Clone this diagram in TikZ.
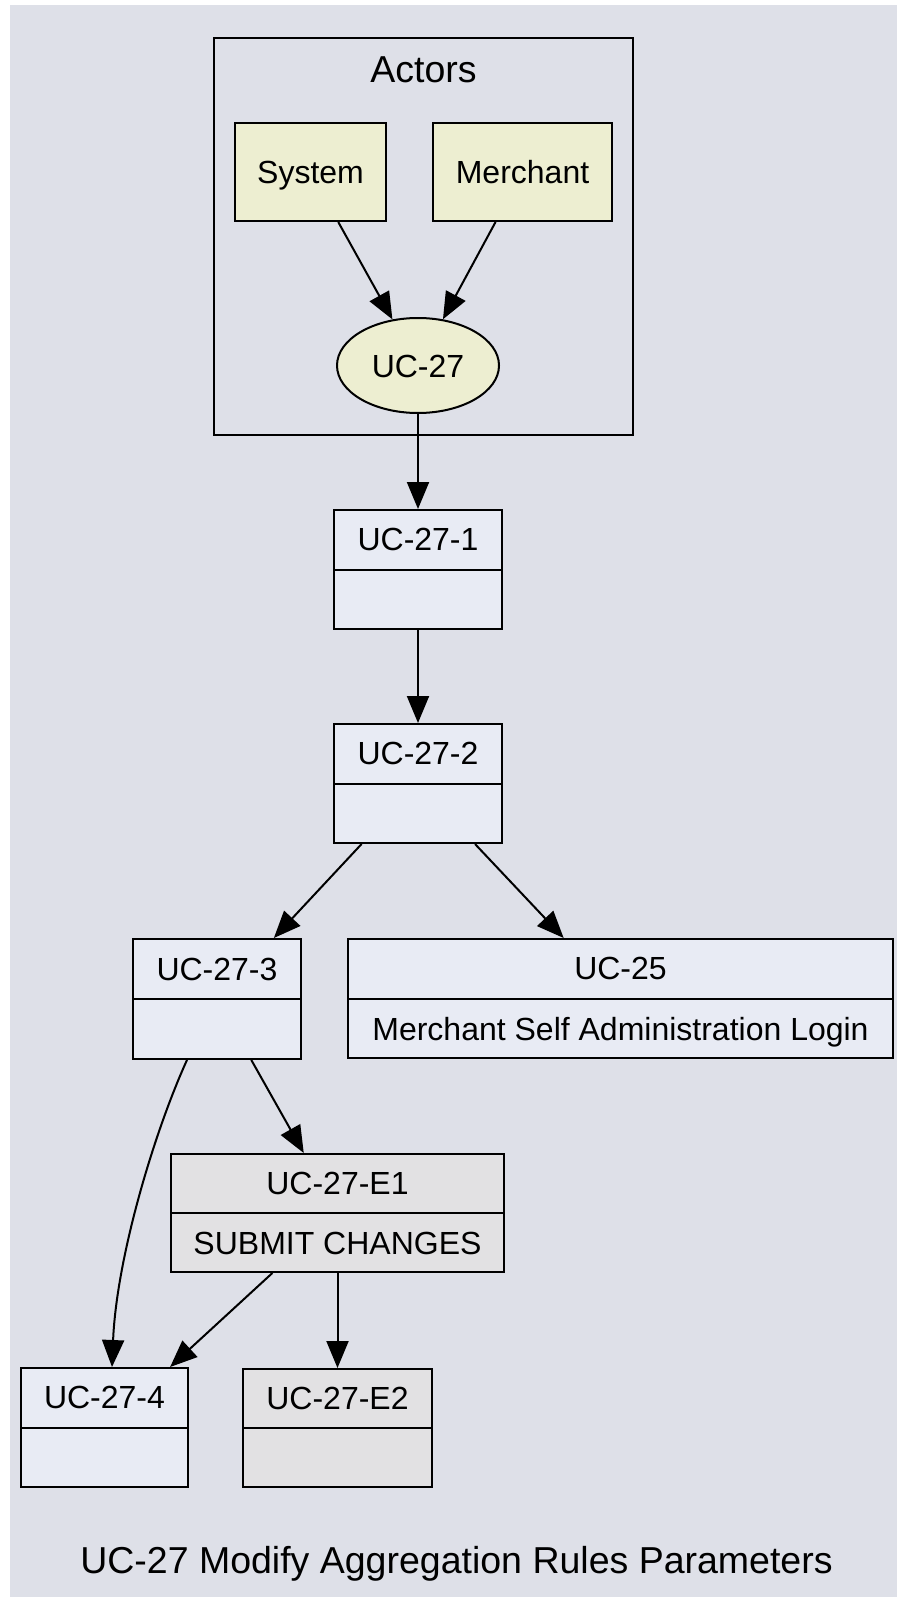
\documentclass[tikz,border=0pt]{standalone}
\usepackage{fontspec}
\setmainfont{Liberation Sans}
\usetikzlibrary{arrows.meta,shapes.geometric,calc}
\definecolor{bgc}{HTML}{DEE0E8}
\definecolor{actfill}{HTML}{EDEED1}
\definecolor{recfill}{HTML}{E8EBF4}
\definecolor{errfill}{HTML}{E2E1E3}
\begin{document}
\begin{tikzpicture}[x=1pt,y=-1pt,
  every node/.style={font=\fontsize{32}{36}\selectfont, text height=23pt, text depth=0pt, inner sep=0pt},
  box/.style={draw=black, line width=2pt, rectangle},
  actor/.style={box, fill=actfill},
  rec/.style={box, fill=recfill},
  err/.style={box, fill=errfill},
  divider/.style={draw=black, line width=2pt},
  conn/.style={draw=black, line width=2pt, -{Triangle[length=27pt,width=22pt]}},
  bigtext/.style={font=\fontsize{37.5}{42}\selectfont, anchor=base, text height=, text depth=}]
\useasboundingbox (0,0) rectangle (897,1597);
\fill[bgc] (10,5) rectangle (897,1597);

% cluster
\node[box, minimum width=419pt, minimum height=397pt] (actors) at (423.5,236.5) {};
\node[bigtext] (actorslbl) at (423.5,83) {Actors};

% actors
\node[actor, minimum width=151pt, minimum height=98pt] (sys) at (310.5,172) {System};
\node[actor, minimum width=179pt, minimum height=98pt] (mer) at (522.5,172) {Merchant};
\node[ellipse, draw=black, line width=2pt, fill=actfill, minimum width=162pt, minimum height=95pt] (uc) at (418,365.5) {UC-27};

% records
\node[rec, minimum width=168pt, minimum height=119pt] (u1) at (418,569.5) {};
\node[rec, minimum width=168pt, minimum height=119pt] (u2) at (418,783.5) {};
\node[rec, minimum width=168pt, minimum height=120pt] (u3) at (217,999) {};
\node[rec, minimum width=545pt, minimum height=119pt] (u25) at (620.5,998.5) {};
\node[err, minimum width=333pt, minimum height=118pt] (e1) at (337.5,1213) {};
\node[rec, minimum width=167pt, minimum height=119pt] (u4) at (104.5,1427.5) {};
\node[err, minimum width=189pt, minimum height=118pt] (e2) at (337.5,1428) {};

\foreach \n in {u1,u2,u3,u25,e1,u4,e2}{\draw[divider] (\n.west) -- (\n.east);}

\node (u1t) at ($(u1.north)!0.5!(u1.center)$) {UC-27-1};
\node (u2t) at ($(u2.north)!0.5!(u2.center)$) {UC-27-2};
\node (u3t) at ($(u3.north)!0.5!(u3.center)$) {UC-27-3};
\node (u25t) at ($(u25.north)!0.5!(u25.center)$) {UC-25};
\node (u25b) at ($(u25.south)!0.5!(u25.center)$) {Merchant Self Administration Login};
\node (e1t) at ($(e1.north)!0.5!(e1.center)$) {UC-27-E1};
\node (e1b) at ($(e1.south)!0.5!(e1.center)$) {SUBMIT CHANGES};
\node (u4t) at ($(u4.north)!0.5!(u4.center)$) {UC-27-4};
\node (e2t) at ($(e2.north)!0.5!(e2.center)$) {UC-27-E2};

% connectors
\draw[conn] (sys) -- (uc);
\draw[conn] (mer) -- (uc);
\draw[conn] (uc) -- (u1);
\draw[conn] (u1) -- (u2);
\draw[conn] (u2) -- (u3);
\draw[conn] (u2) -- (u25);
\draw[conn] (u3) -- (e1);
\draw[conn] ($(u3.south)+(-30,0)$) .. controls ($(u3.south)+(-62,70)$) and ($(u4.north)+(12,-110)$) .. ($(u4.north)+(7.5,0)$);
\draw[conn] (e1) -- (u4);
\draw[conn] (e1) -- (e2);

% title
\node[bigtext] (title) at (456.5,1573) {UC-27 Modify Aggregation Rules Parameters};
\end{tikzpicture}
\end{document}
